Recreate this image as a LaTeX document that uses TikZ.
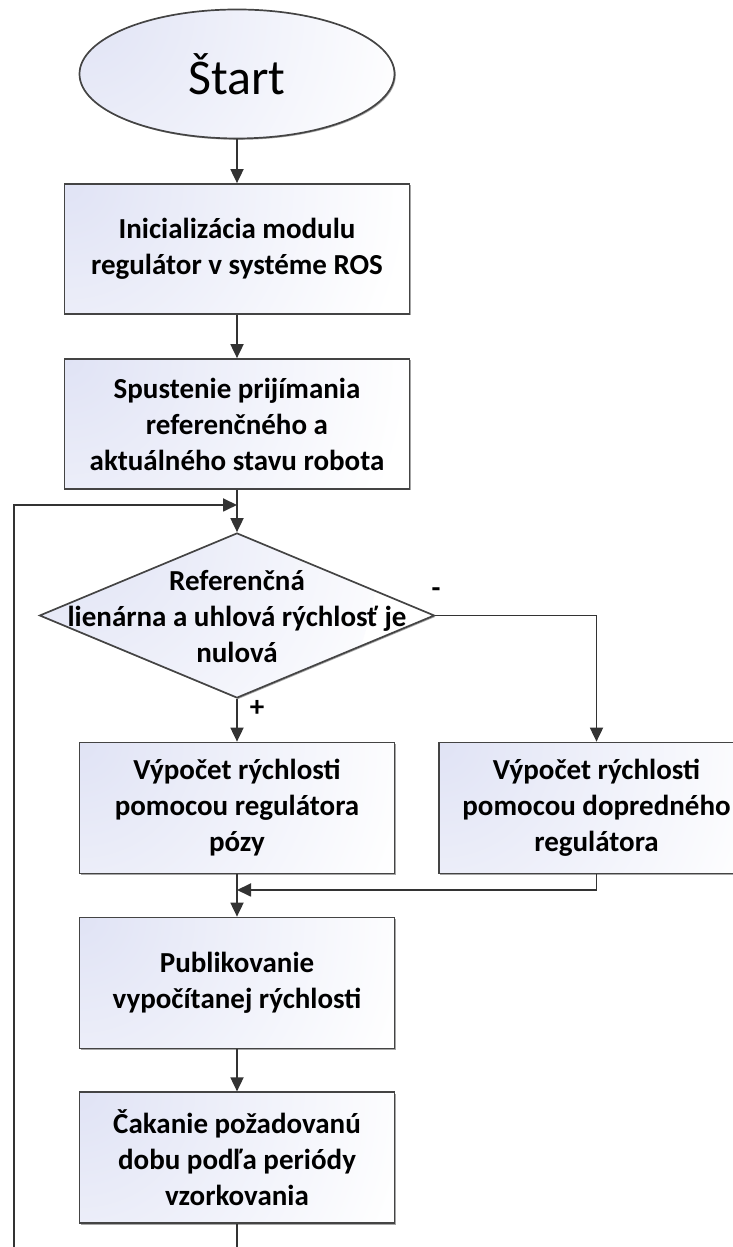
\documentclass[tikz,border=0pt]{standalone}
\usepackage{fontspec}
\setmainfont{Carlito}
\usetikzlibrary{arrows.meta,shapes.geometric,shadows}
\definecolor{linegray}{HTML}{333333}
\definecolor{edgegray}{HTML}{444444}
\definecolor{tint}{RGB}{224,227,245}
\begin{document}
\begin{tikzpicture}[x=1pt,y=1pt,
  shaded/.style={draw=edgegray, line width=1.7pt, fill=white,
    path picture={\shade[inner color=tint, outer color=white]
      (path picture bounding box.north west) circle (340pt);},
    drop shadow={shadow xshift=1.3pt, shadow yshift=-1.3pt, opacity=0.35, fill=black}},
  boxtext/.style={font=\bfseries\fontsize{29}{36}\selectfont, align=center},
  procbox/.style={shaded, rectangle, inner sep=0pt, boxtext},
  widebox/.style={procbox, minimum width=345pt, minimum height=130pt},
  narrowbox/.style={procbox, minimum width=315pt, minimum height=131pt},
  conn/.style={draw=linegray, line width=1.8pt},
  flow/.style={conn, -{Triangle[length=14pt,width=13pt]}},
  sign/.style={font=\bfseries\fontsize{29}{36}\selectfont, inner sep=0pt}
]
\useasboundingbox (0,0) rectangle (733,1247);
\clip (0,0) rectangle (733,1247);

% start terminal
\node[shaded, ellipse, minimum width=315pt, minimum height=129pt, inner sep=0pt,
      font=\fontsize{50}{54}\selectfont] (start) at (237,1173) {Štart};

% initialisation
\node[widebox] (init) at (237,998) {Inicializácia modulu\\regulátor v systéme ROS};
\node[widebox] (recv) at (237,823) {Spustenie prijímania\\referenčného a\\aktuálného stavu robota};

% decision
\node[shaded, diamond, minimum width=395pt, minimum height=165pt, inner sep=0pt] (dec) at (237,631.5) {};
\node[boxtext] (dectext) at (237,630) {Referenčná\\lienárna a uhlová rýchlosť je\\nulová};

% the two controllers
\node[narrowbox] (poz) at (237,439) {Výpočet rýchlosti\\pomocou regulátora\\pózy};
\node[narrowbox] (ff) at (596.5,439) {Výpočet rýchlosti\\pomocou dopredného\\regulátora};

% publishing and waiting
\node[narrowbox] (pub) at (237,264) {Publikovanie\\vypočítanej rýchlosti};
\node[narrowbox] (wait) at (237,89.25) {Čakanie požadovanú\\dobu podľa periódy\\vzorkovania};

% branch signs
\node[sign] (plus) at (257,539) {+};
\node[sign] (minus) at (436,654) {-};

% connection points
\coordinate (loopin) at (237,742);
\coordinate (loopcorner) at (14,-23);
\coordinate (merge) at (237,357);

% connectors
\draw[flow] (start.south) -- (init.north);
\draw[flow] (init.south) -- (recv.north);
\draw[flow] (recv.south) -- (dec.north);
\draw[flow] (dec.south) -- (poz.north);
\draw[flow] (dec.east) -| (ff.north);
\draw[flow] (poz.south) -- (pub.north);
\draw[flow] (ff.south) |- (merge);
\draw[flow] (pub.south) -- (wait.north);
\draw[flow] (wait.south) |- (loopcorner) |- (loopin);
\end{tikzpicture}
\end{document}
